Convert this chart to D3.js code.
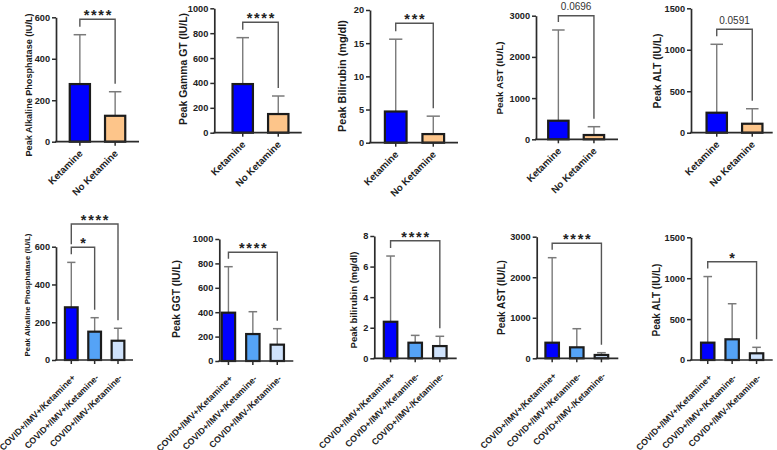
<!DOCTYPE html>
<html><head><meta charset="utf-8">
<script src="https://cdn.jsdelivr.net/npm/d3@7"></script>
<style>body{margin:0;background:#fff}svg{display:block}text{font-family:"Liberation Sans",Arial,sans-serif}</style>
</head><body><svg id="c" width="777" height="450"></svg>
<script>
// ---------- DATA ----------
const topGroups = ["Ketamine", "No Ketamine"];
const bottomGroups = ["COVID+/IMV+/Ketamine+", "COVID+/IMV+/Ketamine-", "COVID+/IMV-/Ketamine-"];

// top row: mean and upper end of error bar (mean + SD)
const alpMean = [278, 125],   alpUpper = [516, 241];
const ggtMean = [391, 150],   ggtUpper = [764, 295];
const bilMean = [4.7, 1.3],   bilUpper = [15.6, 4.0];
const astMean = [451, 104],   astUpper = [2653, 306];
const altMean = [241, 108],   altUpper = [1066, 289];

// bottom row
const alp2Mean = [279, 150, 102],   alp2Upper = [517, 224, 168];
const ggt2Mean = [396, 221, 134],   ggt2Upper = [773, 404, 265];
const bil2Mean = [2.39, 1.02, 0.8], bil2Upper = [6.69, 1.5, 1.44];
const ast2Mean = [385, 271, 82],    ast2Upper = [2482, 730, 138];
const alt2Mean = [212, 253, 82],    alt2Upper = [1020, 688, 155];

// y tick labels
const ticksALP = [0, 200, 400, 600];
const ticksGGT = [0, 200, 400, 600, 800, 1000];
const ticksBil = [0, 5, 10, 15, 20];
const ticksBil2 = [0, 2, 4, 6, 8];
const ticksAST = [0, 1000, 2000, 3000];
const ticksALT = [0, 500, 1000, 1500];

// axis titles
const yTitles = ["Peak Alkaline Phosphatase (IU/L)", "Peak Gamma GT (IU/L)", "Peak Bilirubin (mg/dl)", "Peak AST (IU/L)", "Peak ALT (IU/L)",
                 "Peak Alkaline Phosphatase (IU/L)", "Peak GGT (IU/L)", "Peak bilirubin (mg/dl)", "Peak AST (IU/L)", "Peak ALT (IU/L)"];

// comparisons [i, j] and their labels
const compPairsTop = [[0, 1]];
const sigTop = ["****", "****", "***", "0.0696", "0.0591"];
const compPairsALP2 = [[0, 1], [0, 2]], sigALP2 = ["*", "****"];
const compPairs3 = [[0, 2]];
const sigGGT2 = ["****"], sigBil2 = ["****"], sigAST2 = ["****"], sigALT2 = ["*"];

const topColors = ["#0000ff", "#fdc58a"];
const bottomColors = ["#0000ff", "#55a3f6", "#cfe2fb"];

// ---------- LAYOUT (pixels) ----------
// labLen: visual length of y title; xLen: visual length of the first x label
const panels = [
  {g: topGroups, c: topColors, m: alpMean, u: alpUpper, t: ticksALP, title: yTitles[0], pairs: compPairsTop, sig: [sigTop[0]],
   L: {ax: 56, ae: 139, yt: 17.3, y0: 141.7, band: [55.7, 139.3], labX: 31.5, labY: 85, labLen: 143, xLen: 44, xl: [1, 10], br: [19.3]}},
  {g: topGroups, c: topColors, m: ggtMean, u: ggtUpper, t: ticksGGT, title: yTitles[1], pairs: compPairsTop, sig: [sigTop[1]],
   L: {ax: 214.3, ae: 301.7, yt: 8.3, y0: 132.7, band: [218.4, 302.6], labX: 186.5, labY: 69, labLen: 112, xLen: 44, xl: [1, 10], br: [22.3]}},
  {g: topGroups, c: topColors, m: bilMean, u: bilUpper, t: ticksBil, title: yTitles[2], pairs: compPairsTop, sig: [sigTop[2]],
   L: {ax: 370, ae: 458, yt: 10, y0: 142.7, band: [370, 459], labX: 345.5, labY: 76, labLen: 112, xLen: 44, xl: [1, 10], br: [23.3]}},
  {g: topGroups, c: topColors, m: astMean, u: astUpper, t: ticksAST, title: yTitles[3], pairs: compPairsTop, sig: [sigTop[3]],
   L: {ax: 536, ae: 618, yt: 15.7, y0: 139.3, band: [534, 618.3], labX: 502.5, labY: 78, labLen: 73, xLen: 44, xl: [1, 10], br: [15.7]}},
  {g: topGroups, c: topColors, m: altMean, u: altUpper, t: ticksALT, title: yTitles[4], pairs: compPairsTop, sig: [sigTop[4]],
   L: {ax: 691, ae: 772.7, yt: 8.3, y0: 132.7, band: [692.4, 776.6], labX: 660.5, labY: 71, labLen: 75, xLen: 44, xl: [1, 10], br: [29.3]}},
  {g: bottomGroups, c: bottomColors, m: alp2Mean, u: alp2Upper, t: ticksALP, title: yTitles[5], pairs: compPairsALP2, sig: sigALP2,
   L: {ax: 56, ae: 133, yt: 246.7, y0: 360, band: [55.3, 134], labX: 30, labY: 295, labLen: 123, xLen: 103, xl: [2.5, 16], br: [247.3, 224]}},
  {g: bottomGroups, c: bottomColors, m: ggt2Mean, u: ggt2Upper, t: ticksGGT, title: yTitles[6], pairs: compPairs3, sig: sigGGT2,
   L: {ax: 219.3, ae: 293.3, yt: 239, y0: 361, band: [211.7, 294], labX: 180, labY: 299, labLen: 78, xLen: 103, xl: [2.5, 16], br: [252.3]}},
  {g: bottomGroups, c: bottomColors, m: bil2Mean, u: bil2Upper, t: ticksBil2, title: yTitles[7], pairs: compPairs3, sig: sigBil2,
   L: {ax: 374.3, ae: 456.7, yt: 236, y0: 358.3, band: [373.7, 456.7], labX: 356.5, labY: 300, labLen: 97, xLen: 103, xl: [2.5, 16], br: [240.7]}},
  {g: bottomGroups, c: bottomColors, m: ast2Mean, u: ast2Upper, t: ticksAST, title: yTitles[8], pairs: compPairs3, sig: sigAST2,
   L: {ax: 536.7, ae: 618.3, yt: 236.7, y0: 358.3, band: [535.3, 618.3], labX: 505, labY: 297.5, labLen: 75, xLen: 103, xl: [2.5, 16], br: [243.3]}},
  {g: bottomGroups, c: bottomColors, m: alt2Mean, u: alt2Upper, t: ticksALT, title: yTitles[9], pairs: compPairs3, sig: sigALT2,
   L: {ax: 691, ae: 772.7, yt: 237.3, y0: 360, band: [691, 773.3], labX: 660, labY: 300, labLen: 73, xLen: 103, xl: [2.5, 16], br: [261.7]}}
];

const svg = d3.select("#c");
const AX = "#2b2b2b", ERR = "#7a7a7a";
const FONT = "'Liberation Sans', Arial, sans-serif";

// size a text so that its advance length matches a target length
function fitFont(sel, target, base) {
  sel.attr("font-size", base);
  const len = sel.node().getComputedTextLength();
  const fs = base * target / len;
  sel.attr("font-size", fs);
  return fs;
}

panels.forEach(p => {
  const L = p.L;
  const gP = svg.append("g");
  const y = d3.scaleLinear().domain([0, d3.max(p.t)]).range([L.y0, L.yt]);
  const x = d3.scaleBand().domain(p.g).range(L.band).padding(0.37);
  const bw = x.bandwidth();
  const cx = i => x(p.g[i]) + bw / 2;

  // error bars (upper only)
  p.g.forEach((name, i) => {
    gP.append("line").attr("x1", cx(i)).attr("x2", cx(i)).attr("y1", y(p.m[i])).attr("y2", y(p.u[i]))
      .attr("stroke", ERR).attr("stroke-width", 1.4);
    gP.append("line").attr("x1", cx(i) - bw * 0.28).attr("x2", cx(i) + bw * 0.28).attr("y1", y(p.u[i])).attr("y2", y(p.u[i]))
      .attr("stroke", ERR).attr("stroke-width", 1.5);
  });

  // bars
  gP.selectAll("rect.bar").data(p.g).join("rect")
    .attr("x", d => x(d) + 1).attr("width", bw - 2)
    .attr("y", (d, i) => y(p.m[i])).attr("height", (d, i) => y(0) - y(p.m[i]))
    .attr("fill", (d, i) => p.c[i]).attr("stroke", "#1c1c1c").attr("stroke-width", 2.2);

  // y axis
  const ya = gP.append("g").attr("transform", `translate(${L.ax},0)`)
    .call(d3.axisLeft(y).tickValues(p.t).tickSize(4).tickSizeOuter(0).tickPadding(2).tickFormat(d3.format("d")));
  ya.select(".domain").attr("stroke", AX).attr("stroke-width", 1.7);
  ya.selectAll(".tick line").attr("stroke", AX).attr("stroke-width", 1.5);
  ya.selectAll(".tick text").attr("font-size", 9.2).attr("font-weight", "bold").attr("fill", "#222")
    .attr("font-family", FONT);

  // x axis
  gP.append("line").attr("x1", L.ax - 0.85).attr("x2", L.ae).attr("y1", L.y0).attr("y2", L.y0)
    .attr("stroke", AX).attr("stroke-width", 1.7);
  const xa = gP.append("g").attr("transform", `translate(0,${L.y0})`)
    .call(d3.axisBottom(x).tickSize(4).tickSizeOuter(0));
  xa.select(".domain").remove();
  xa.selectAll(".tick line").attr("stroke", AX).attr("stroke-width", 1.5);
  const xt = xa.selectAll(".tick text")
    .attr("font-weight", "bold").attr("fill", "#222")
    .attr("font-family", FONT)
    .attr("text-anchor", "end").attr("x", 0).attr("y", 0).attr("dy", "0.35em")
    .attr("transform", `translate(${L.xl[0]},${L.xl[1]}) rotate(-45)`);
  const xfs = fitFont(d3.select(xt.nodes()[0]), L.xLen, 9);
  xt.attr("font-size", xfs);

  // y title
  const tt = gP.append("text").attr("transform", `translate(${L.labX},${L.labY}) rotate(-90)`)
    .attr("text-anchor", "middle").attr("font-weight", "bold").attr("fill", "#1a1a1a")
    .text(p.title);
  fitFont(tt, L.labLen, 10);

  // comparison brackets
  p.pairs.forEach((pr, k) => {
    const by = L.br[k];
    const legEnd = idx => {
      let e = y(p.u[idx]) - 8;
      p.pairs.forEach((q, k2) => {
        if (k2 !== k && L.br[k2] > by && (q[0] === idx || q[1] === idx)) e = Math.min(e, L.br[k2] - 3);
      });
      return e;
    };
    const x1 = cx(pr[0]), x2 = cx(pr[1]);
    gP.append("path")
      .attr("d", `M${x1},${legEnd(pr[0])}V${by}H${x2}V${legEnd(pr[1])}`)
      .attr("fill", "none").attr("stroke", "#555").attr("stroke-width", 1.4);
    const s = p.sig[k];
    const isStar = /^\*+$/.test(s);
    const t = gP.append("text").attr("x", (x1 + x2) / 2).attr("text-anchor", "middle").text(s);
    if (isStar) {
      t.attr("y", by + 1).attr("font-size", 14.5).attr("font-weight", "bold").attr("fill", "#222")
       .attr("letter-spacing", 1.7).attr("dx", 0.85);
    } else {
      t.attr("y", by - 5.3).attr("font-size", 10).attr("fill", "#333");
    }
  });
});
</script>
</body></html>
